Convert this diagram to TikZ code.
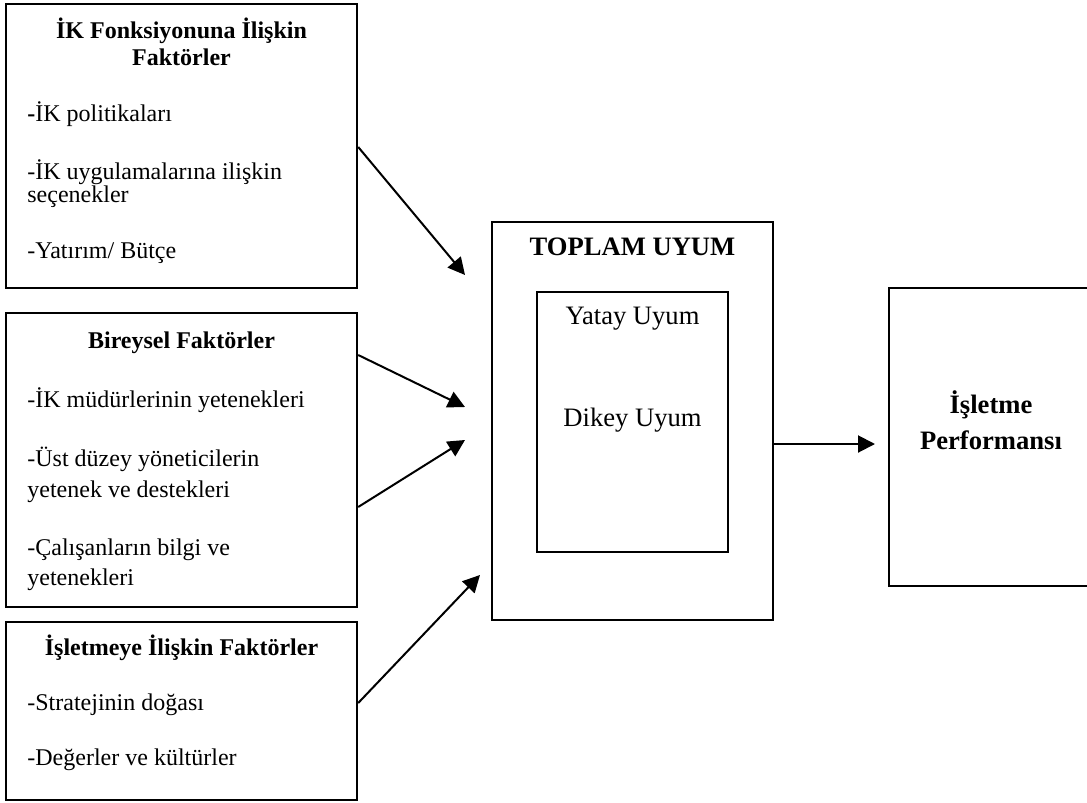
\documentclass[tikz,border=0pt]{standalone}
\usepackage{fontspec}
\setmainfont{Liberation Serif}
\usetikzlibrary{arrows.meta}

\begin{document}
\fontsize{12}{14.4}\selectfont
\begin{tikzpicture}[x=0.5pt,y=-0.5pt,
  box/.style={draw,line width=1.2pt,inner sep=0pt},
  arr/.style={-{Triangle[length=8.5pt,width=8.5pt]},line width=1pt},
  txt/.style={anchor=base west,inner sep=0pt},
  ttl/.style={anchor=base,inner sep=0pt,font=\bfseries},
  big/.style={anchor=base,inner sep=0pt,font=\fontsize{13.3}{16}\selectfont},
  bigttl/.style={anchor=base,inner sep=0pt,font=\fontsize{13.3}{16}\selectfont\bfseries}]
\useasboundingbox (0,0) rectangle (1087,803);
\clip (0,0) rectangle (1087,803);
% the boxes
\node[box,minimum width=175.5pt,minimum height=142pt] (ikf) at (181.5,146) {};
\node[box,minimum width=175.5pt,minimum height=147pt] (bf) at (181.5,460) {};
\node[box,minimum width=175.5pt,minimum height=89pt] (isf) at (181.5,711) {};
\node[box,minimum width=140.5pt,minimum height=199pt] (tu) at (632.5,421) {};
\node[box,minimum width=95.5pt,minimum height=130pt] (uyum) at (632.5,422) {};
\node[box,minimum width=105.5pt,minimum height=149pt] (perf) at (994.5,437) {};
% IK fonksiyonu
\node[ttl] (ikt1) at (181.5,39) {İK Fonksiyonuna İlişkin};
\node[ttl] (ikt2) at (181.5,65) {Faktörler};
\node[txt] (ik1) at (27,121) {\textbf{-}İK politikaları};
\node[txt] (ik2) at (27,179) {-İK uygulamalarına ilişkin};
\node[txt] (ik3) at (27,202) {seçenekler};
\node[txt] (ik4) at (27,258) {-Yatırım/ Bütçe};
% bireysel
\node[ttl] (bft) at (181.5,348) {Bireysel Faktörler};
\node[txt] (bf1) at (27,407) {-İK müdürlerinin yetenekleri};
\node[txt] (bf2) at (27,466) {-Üst düzey yöneticilerin};
\node[txt] (bf3) at (27,497) {yetenek ve destekleri};
\node[txt] (bf4) at (27,555) {-Çalışanların bilgi ve};
\node[txt] (bf5) at (27,585) {yetenekleri};
% isletme
\node[ttl] (ist) at (181.5,655) {İşletmeye İlişkin Faktörler};
\node[txt] (is1) at (27,710) {-Stratejinin doğası};
\node[txt] (is2) at (27,765) {-Değerler ve kültürler};
% uyum
\node[bigttl] (tut) at (632.5,255) {TOPLAM UYUM};
\node[big] (yatay) at (632.5,324) {Yatay Uyum};
\node[big] (dikey) at (632.5,426) {Dikey Uyum};
% performans
\node[bigttl] (pt1) at (991,413) {İşletme};
\node[bigttl] (pt2) at (991,449) {Performansı};
% arrows
\coordinate (t1) at (465,275);
\coordinate (t2) at (465,407);
\coordinate (t3) at (465,440);
\coordinate (t4) at (480,575);
\coordinate (t5) at (875,444);
\draw[arr] (ikf.east |- 0,147) -- (t1);
\draw[arr] (bf.east |- 0,355) -- (t2);
\draw[arr] (bf.east |- 0,507) -- (t3);
\draw[arr] (isf.east |- 0,703) -- (t4);
\draw[arr] (tu.east |- t5) -- (t5);
\end{tikzpicture}
\end{document}
